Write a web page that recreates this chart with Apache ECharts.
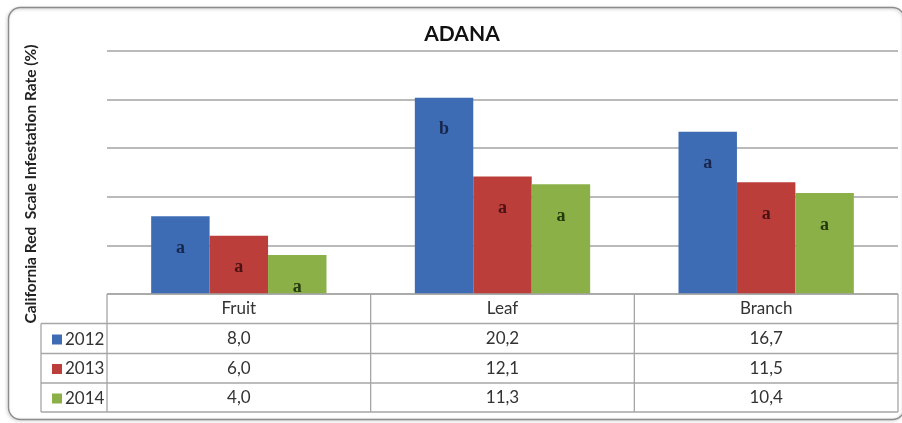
<!DOCTYPE html>
<html>
<head>
<meta charset="utf-8">
<script src="https://cdn.jsdelivr.net/npm/echarts@6/dist/echarts.min.js"></script>
<style>
html,body{margin:0;padding:0;background:#fff;}
#c{width:902px;height:423px;}
</style>
</head>
<body>
<div id="c"></div>
<script>
// ---- data ----
var title = 'ADANA';
var yTitle = 'California Red  Scale Infestation Rate (%)';
var categories = ['Fruit', 'Leaf', 'Branch'];
var years = ['2012', '2013', '2014'];
var v2012 = [8.0, 20.2, 16.7];
var v2013 = [6.0, 12.1, 11.5];
var v2014 = [4.0, 11.3, 10.4];
var letters2012 = ['a', 'b', 'a'];
var letters2013 = ['a', 'a', 'a'];
var letters2014 = ['a', 'a', 'a'];

(function () {
// ---- styling ----
var colors = ['#3e6cb4', '#bb3e3b', '#8bb047'];
var letterColors = ['#17264d', '#4a1212', '#263a10'];
var font = 'Lato, "Open Sans", sans-serif';
var values = [v2012, v2013, v2014];
var letters = [letters2012, letters2013, letters2014];

var chart = echarts.init(document.getElementById('c'), null, {renderer: 'canvas'});

var series = years.map(function (y, i) {
  return {
    name: y,
    type: 'bar',
    data: values[i],
    barGap: '0%',
    barCategoryGap: '33.5%',
    itemStyle: {color: colors[i]},
    label: {
      show: true,
      position: 'insideTop',
      distance: 23,
      fontFamily: '"Liberation Serif", serif',
      fontWeight: 'bold',
      fontSize: 18,
      color: letterColors[i],
      formatter: function (p) { return letters[p.seriesIndex][p.dataIndex]; }
    }
  };
});

var option = {
  animation: false,
  backgroundColor: '#fff',
  title: {
    text: title,
    left: 457, top: 19,
    textAlign: 'center',
    textStyle: {fontFamily: font, fontWeight: 'bold', fontSize: 21, color: '#111'}
  },
  legend: {
    orient: 'vertical',
    left: 47, top: 326,
    itemWidth: 10, itemHeight: 10,
    itemGap: 12.5,
    icon: 'rect',
    selectedMode: false,
    textStyle: {fontFamily: font, fontSize: 17, color: '#333', lineHeight: 17, padding: [0, 0, 0, -2]},
    data: years
  },
  grid: {left: 107, right: 4, top: 51, bottom: 129, containLabel: false},
  xAxis: {
    type: 'category',
    data: categories,
    axisLine: {show: false},
    axisTick: {show: false},
    axisLabel: {show: false}
  },
  yAxis: {
    type: 'value',
    min: 0, max: 25, interval: 5,
    axisLine: {show: false},
    axisTick: {show: false},
    axisLabel: {show: false},
    splitLine: {show: true, lineStyle: {color: '#a3a3a3', width: 1.5}}
  },
  series: series
};
chart.setOption(option);

// ---- data table & frame, positioned from the library's scales ----
var cx0 = chart.convertToPixel({xAxisIndex: 0}, categories[0]);
var cx1 = chart.convertToPixel({xAxisIndex: 0}, categories[1]);
var catW = cx1 - cx0;
var tLeft = cx0 - catW / 2;
var tRight = tLeft + catW * categories.length;
var tTop = chart.convertToPixel({yAxisIndex: 0}, 0);
var rowH = [29.5, 30, 29.5, 29];
var rowY = [tTop];
for (var r = 0; r < rowH.length; r++) rowY.push(rowY[r] + rowH[r]);
var legendLeft = 41;
var lineStyle = {stroke: '#a6a6a6', lineWidth: 1.3};
var cellFont = 17;

var g = [];
// frame
g.push({type: 'rect', shape: {x: 8.5, y: 7.5, width: 896, height: 412, r: 12},
  style: {fill: 'none', stroke: '#8c8c8c', lineWidth: 1.4, shadowBlur: 3, shadowColor: 'rgba(0,0,0,0.25)', shadowOffsetX: -1, shadowOffsetY: 1}, z: 0});
// y title
g.push({type: 'text', x: 31, y: 184, rotation: Math.PI / 2,
  style: {text: yTitle, fontFamily: font, fontWeight: 'bold', fontSize: 15.5, fill: '#222', align: 'center', verticalAlign: 'middle'}});
// horizontal lines
for (var i = 0; i < rowY.length; i++) {
  var xs = i === 0 ? tLeft : legendLeft;
  g.push({type: 'line', shape: {x1: xs, y1: rowY[i], x2: tRight, y2: rowY[i]}, style: lineStyle, z: 10});
}
// vertical lines
g.push({type: 'line', shape: {x1: legendLeft, y1: rowY[1], x2: legendLeft, y2: rowY[rowY.length - 1]}, style: lineStyle, z: 10});
for (var c = 0; c <= categories.length; c++) {
  var xx = tLeft + c * catW;
  g.push({type: 'line', shape: {x1: xx, y1: rowY[0], x2: xx, y2: rowY[rowY.length - 1]}, style: lineStyle, z: 10});
}
// header & value texts
categories.forEach(function (cat, ci) {
  var cx = chart.convertToPixel({xAxisIndex: 0}, cat);
  g.push({type: 'text', x: cx, y: (rowY[0] + rowY[1]) / 2,
    style: {text: cat, fontFamily: font, fontSize: cellFont, fill: '#333', align: 'center', verticalAlign: 'middle'}});
  values.forEach(function (arr, si) {
    g.push({type: 'text', x: cx, y: (rowY[si + 1] + rowY[si + 2]) / 2,
      style: {text: arr[ci].toFixed(1).replace('.', ','), fontFamily: font, fontSize: cellFont, fill: '#333', align: 'center', verticalAlign: 'middle'}});
  });
});
chart.setOption({graphic: g});
})();
</script>
</body>
</html>
